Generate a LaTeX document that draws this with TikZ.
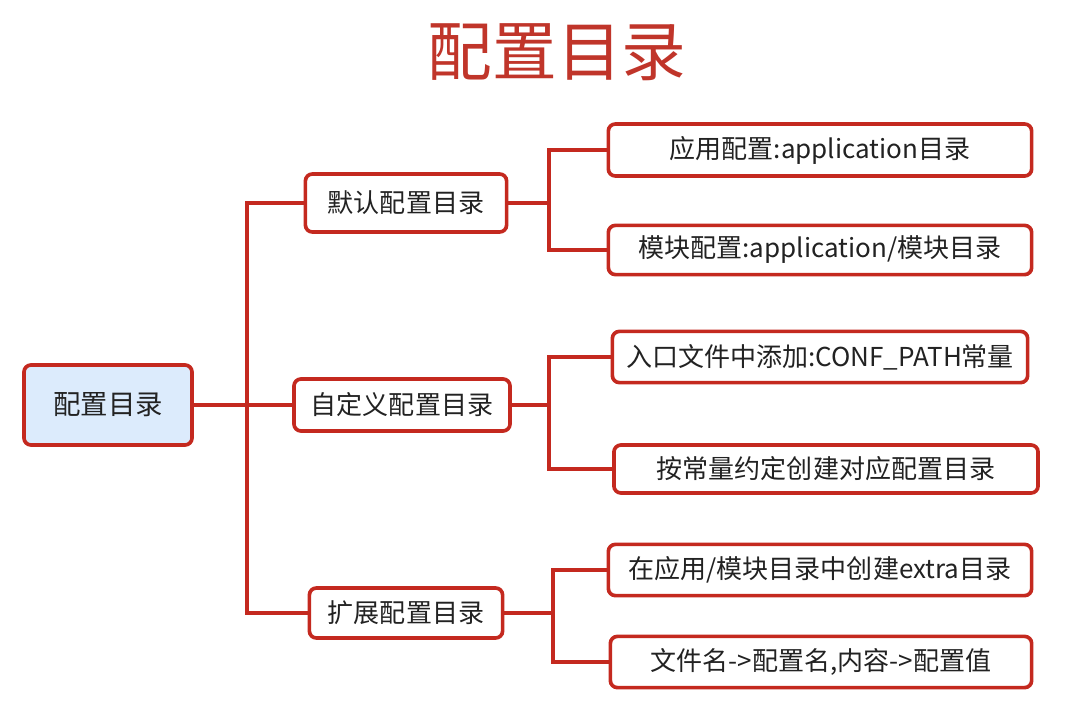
\documentclass[tikz,border=0pt]{standalone}
\usepackage{fontspec}
\setmainfont{Noto Sans CJK SC}
\usepackage{tikz}
\usetikzlibrary{positioning,calc}
\definecolor{boxred}{HTML}{C4291F}
\definecolor{titlered}{HTML}{C0352A}
\definecolor{rootblue}{HTML}{DCEBFC}
\definecolor{txt}{HTML}{222222}

\begin{document}
\begin{tikzpicture}[x=0.025cm, y=-0.025cm,
    item/.style={rectangle, rounded corners=5pt, draw=boxred, line width=2.6pt, fill=white,
        minimum height=1.28cm, inner sep=0pt, align=center, text=txt, font=\fontsize{18.5}{20}\selectfont},
    link/.style={draw=boxred, line width=2.2pt}
]
\useasboundingbox (0,0) rectangle (1084,723);

% Title
\node[text=titlered, font=\fontsize{46}{50}\selectfont] (title) at (557,52) {配置目录};

% Root
\node[item, fill=rootblue, minimum width=4.2cm, minimum height=2cm, font=\fontsize{19.5}{22}\selectfont] (root) at (108,405) {配置目录};

% First level
\node[item, minimum width=5.03cm, minimum height=1.45cm] (def) at (406,203) {默认配置目录};
\node[item, minimum width=5.4cm, minimum height=1.3cm] (cus) at (402,405) {自定义配置目录};
\node[item, minimum width=4.83cm, minimum height=1.25cm] (ext) at (406,613) {扩展配置目录};

% Second level
\node[item, minimum width=10.58cm, minimum height=1.3cm] (app) at (820,150) {应用配置:application目录};
\node[item, minimum width=10.58cm, minimum height=1.23cm] (mod) at (820,250) {模块配置:application/模块目录};
\node[item, minimum width=10.38cm] (entry) at (820,357) {入口文件中添加:CONF\_PATH常量};
\node[item, minimum width=10.6cm, minimum height=1.2cm] (const) at (826,469) {按常量约定创建对应配置目录};
\node[item, minimum width=10.58cm] (extra) at (820,570) {在应用/模块目录中创建extra目录};
\node[item, minimum width=10.53cm] (kv) at (821,662) {文件名->配置名,内容->配置值};

% Joints
\coordinate (j0) at (247,405);
\coordinate (j1) at (549,203);
\coordinate (j2) at (549,405);
\coordinate (j3) at (553,613);

% Connectors
\draw[link] (root.east) -- (j0);
\draw[link] (j0) |- (def.west);
\draw[link] (j0) |- (cus.west);
\draw[link] (j0) |- (ext.west);

\draw[link] (def.east) -- (j1);
\draw[link] (j1) |- (app.west);
\draw[link] (j1) |- (mod.west);

\draw[link] (cus.east) -- (j2);
\draw[link] (j2) |- (entry.west);
\draw[link] (j2) |- (const.west);

\draw[link] (ext.east) -- (j3);
\draw[link] (j3) |- (extra.west);
\draw[link] (j3) |- (kv.west);

\end{tikzpicture}
\end{document}
